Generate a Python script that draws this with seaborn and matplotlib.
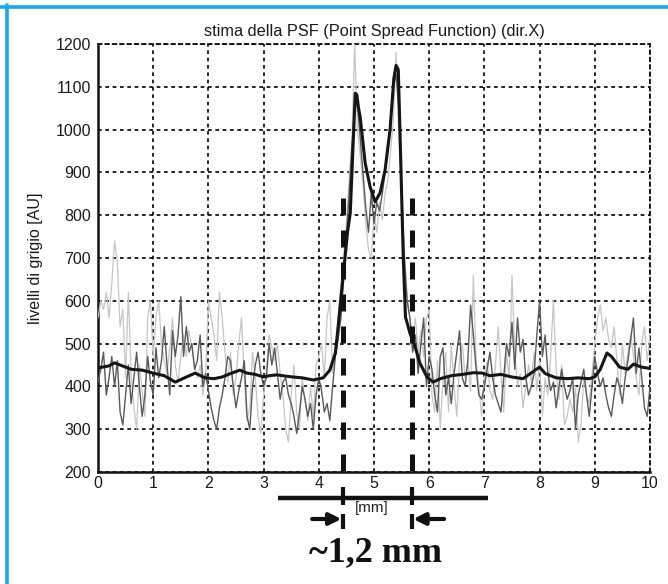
import numpy as np
import pandas as pd
import matplotlib
matplotlib.use("Agg")
import matplotlib.pyplot as plt
from matplotlib.lines import Line2D
import seaborn as sns

# ---------------- data ----------------
title = "stima della PSF (Point Spread Function) (dir.X)"
ylabel = "livelli di grigio [AU]"
xticks = [0, 1, 2, 3, 4, 5, 6, 7, 8, 9, 10]
yticks = [200, 300, 400, 500, 600, 700, 800, 900, 1000, 1100, 1200]

# sampling grid of the two raw profiles (mm)
x_raw = [round(0.05 * i, 2) for i in range(201)]

light_profile = [
    560, 600, 580, 620, 560, 640, 740, 690, 540, 580,
    420, 620, 430, 350, 300, 450, 390, 330, 560, 600,
    470, 560, 600, 500, 460, 430, 490, 560, 450, 410,
    470, 520, 470, 530, 490, 450, 420, 450, 380, 430,
    600, 560, 520, 460, 620, 560, 480, 410, 480, 380,
    420, 500, 560, 420, 320, 350, 480, 420, 330, 290,
    380, 440, 520, 490, 460, 500, 430, 380, 300, 270,
    380, 450, 340, 300, 420, 370, 320, 400, 330, 450,
    470, 500, 420, 560, 600, 430, 480, 560, 640, 700,
    780, 880, 980, 1200, 1000, 940, 870, 780, 720, 700,
    800, 760, 830, 790, 850, 880, 950, 1020, 1180, 980,
    880, 720, 610, 560, 520, 560, 480, 530, 470, 560,
    580, 380, 340, 460, 300, 420, 480, 340, 500, 400,
    330, 460, 500, 420, 460, 390, 660, 460, 400, 330,
    420, 460, 390, 370, 450, 540, 430, 340, 480, 420,
    660, 480, 400, 430, 350, 400, 450, 410, 480, 390,
    460, 330, 420, 380, 470, 600, 440, 370, 450, 310,
    330, 370, 340, 400, 270, 310, 420, 380, 360, 430,
    500, 560, 590, 530, 560, 510, 490, 540, 460, 380,
    500, 430, 480, 520, 470, 420, 380, 500, 540, 460,
    520,
]

dark_profile = [
    410, 440, 480, 380, 420, 470, 400, 460, 340, 310,
    380, 450, 360, 420, 480, 400, 330, 380, 470, 410,
    380, 490, 420, 460, 540, 450, 380, 530, 470, 520,
    610, 470, 540, 480, 500, 440, 460, 520, 400, 430,
    390, 350, 320, 300, 350, 380, 420, 470, 460, 400,
    350, 390, 420, 460, 330, 300, 400, 450, 480, 430,
    400, 420, 500, 450, 490, 430, 370, 410, 420, 380,
    360, 330, 290, 340, 400, 370, 330, 360, 300, 380,
    420, 390, 340, 360, 320, 400, 470, 510, 560, 650,
    750, 850, 960, 1050, 1060, 980, 900, 820, 760, 850,
    780, 830, 810, 850, 900, 950, 1020, 1100, 1130, 1050,
    850, 700, 600, 560, 480, 520, 430, 500, 560, 400,
    470, 440, 380, 340, 470, 490, 380, 420, 360, 430,
    480, 530, 420, 400, 460, 590, 520, 440, 380, 370,
    400, 440, 480, 420, 380, 360, 340, 420, 500, 470,
    550, 440, 560, 480, 510, 420, 380, 400, 430, 520,
    600, 470, 520, 430, 390, 410, 350, 400, 440, 400,
    370, 390, 420, 300, 380, 410, 440, 380, 330, 400,
    470, 430, 400, 420, 380, 350, 330, 380, 420, 400,
    360, 420, 460, 510, 560, 430, 490, 420, 350, 330,
    400,
]

x_smooth = [
    0, 0.2, 0.3, 0.4, 0.6, 0.8, 1.0, 1.2, 1.4, 1.6,
    1.76, 1.94, 2.1, 2.25, 2.4, 2.57, 2.7, 2.85, 3.0, 3.1,
    3.24, 3.4, 3.53, 3.7, 3.9, 4.08, 4.2, 4.3, 4.35, 4.42,
    4.47, 4.52, 4.57, 4.62, 4.66, 4.69, 4.72, 4.75, 4.84, 4.93,
    5.02, 5.11, 5.2, 5.29, 5.36, 5.4, 5.44, 5.47, 5.5, 5.53,
    5.57, 5.65, 5.75, 5.83, 5.96, 6.07, 6.2, 6.4, 6.6, 6.8,
    6.97, 7.1, 7.3, 7.5, 7.7, 7.92, 8.0, 8.1, 8.3, 8.5,
    8.7, 8.9, 9.0, 9.1, 9.22, 9.3, 9.45, 9.6, 9.7, 9.85,
    10.0,
]
smooth_profile = [
    443, 448, 455, 450, 440, 438, 431, 425, 410, 422,
    431, 420, 418, 422, 430, 438, 431, 428, 422, 425,
    427, 424, 422, 420, 415, 420, 438, 478, 539, 632,
    695, 760, 805, 960, 1085, 1081, 1050, 1029, 922, 866,
    831, 852, 905, 999, 1120, 1150, 1140, 999, 850, 700,
    562, 525, 490, 455, 422, 410, 418, 425, 428, 432,
    431, 425, 428, 422, 418, 438, 445, 430, 420, 418,
    420, 418, 422, 440, 478, 470, 445, 440, 452, 445,
    442,
]

# FWHM markers (mm) and annotation
fwhm_left = 4.44
fwhm_right = 5.68
fwhm_top = 840
scale_bar = [3.26, 7.07]
fwhm_text = "~1,2 mm"
unit_text = "[mm]"

# ---------------- figure ----------------
sns.set_style("white")
plt.rcParams["font.family"] = ["Liberation Sans", "DejaVu Sans"]

W, H = 668, 584
fig = plt.figure(figsize=(W / 100, H / 100), dpi=100)
ax_l, ax_r, ax_b, ax_t = 98, 650, 472, 44
ax = fig.add_axes([ax_l / W, 1 - ax_b / H, (ax_r - ax_l) / W, (ax_b - ax_t) / H])

df_light = pd.DataFrame({"x": x_raw, "y": light_profile})
df_dark = pd.DataFrame({"x": x_raw, "y": dark_profile})
df_smooth = pd.DataFrame({"x": x_smooth, "y": smooth_profile})

sns.lineplot(data=df_light, x="x", y="y", color="#c6c6c6", linewidth=0.9,
             estimator=None, ax=ax, zorder=3)
sns.lineplot(data=df_dark, x="x", y="y", color="#5a5a5a", linewidth=1.0,
             estimator=None, ax=ax, zorder=4)
sns.lineplot(data=df_smooth, x="x", y="y", color="#151515", linewidth=2.2,
             estimator=None, ax=ax, zorder=5)

ax.set_xlim(0, 10)
ax.set_ylim(200, 1200)
ax.set_xticks(xticks)
ax.set_yticks(yticks)
ax.set_xticklabels([str(t) for t in xticks])
ax.set_yticklabels([str(t) for t in yticks])
ax.tick_params(axis="both", length=0, labelsize=11.5, labelcolor="#1a1a1a")
ax.tick_params(axis="x", pad=3)
ax.tick_params(axis="y", pad=5)

grid_ls = (0, (2.2, 2.2))
ax.grid(True, color="black", linestyle=grid_ls, linewidth=1.2, zorder=1)
ax.set_axisbelow(True)
for s in ["left", "bottom"]:
    ax.spines[s].set_color("#111111")
    ax.spines[s].set_linewidth(1.8)
for s in ["top", "right"]:
    ax.spines[s].set_color("black")
    ax.spines[s].set_linewidth(1.2)
    ax.spines[s].set_linestyle(grid_ls)

ax.set_xlabel("")
ax.set_ylabel(ylabel, fontsize=11.5, color="#1a1a1a")
ax.yaxis.set_label_coords((43 - ax_l) / (ax_r - ax_l), 0.5)
ax.set_title(title, fontsize=11.8, color="#1a1a1a", pad=6)

# thick dashed FWHM lines
for xv in (fwhm_left, fwhm_right):
    ax.plot([xv, xv], [fwhm_top, 200], color="#111111", linewidth=3.6,
            linestyle=(0, (3.4, 3.0)), dash_capstyle="butt", zorder=6)

# annotations below the axis (y in pixels converted to axes fraction)
def yf(py):
    return (ax_b - py) / (ax_b - ax_t)

tr = ax.get_xaxis_transform()
ax.add_line(Line2D(scale_bar, [yf(498), yf(498)], transform=tr, color="#111111",
                   linewidth=3.2, clip_on=False, solid_capstyle="butt"))
for xv in (fwhm_left, fwhm_right):
    ax.add_line(Line2D([xv, xv], [yf(487), yf(505)], transform=tr, color="#111111",
                       linewidth=3.0, clip_on=False, solid_capstyle="butt"))
    ax.add_line(Line2D([xv, xv], [yf(514), yf(529)], transform=tr, color="#111111",
                       linewidth=3.0, clip_on=False, solid_capstyle="butt"))
ax.text(4.96, yf(508), unit_text, transform=tr, ha="center", va="center",
        fontsize=11, color="#222222", clip_on=False)

arrow_kw = dict(arrowstyle="-|>,head_length=0.7,head_width=0.35", color="#111111",
                linewidth=3.0, shrinkA=0, shrinkB=0)
ax.annotate("", xy=(fwhm_left - 0.03, yf(519)), xytext=(3.88, yf(519)),
            xycoords=tr, textcoords=tr, arrowprops=arrow_kw, annotation_clip=False)
ax.annotate("", xy=(fwhm_right + 0.03, yf(519)), xytext=(6.27, yf(519)),
            xycoords=tr, textcoords=tr, arrowprops=arrow_kw, annotation_clip=False)

ax.text(5.02, yf(553), fwhm_text, transform=tr, ha="center", va="center",
        fontsize=26, fontweight="bold", family=["Liberation Serif", "DejaVu Serif"],
        color="#111111", clip_on=False)

# blue frame (top and left edges)
blue = "#19a9e6"
fig.add_artist(Line2D([0, 1], [1 - 6.5 / H, 1 - 6.5 / H], transform=fig.transFigure,
                      color=blue, linewidth=2.6))
fig.add_artist(Line2D([6.5 / W, 6.5 / W], [0, 1 - 5 / H], transform=fig.transFigure,
                      color=blue, linewidth=2.6))

fig.savefig("out.png", dpi=100, facecolor="white")
